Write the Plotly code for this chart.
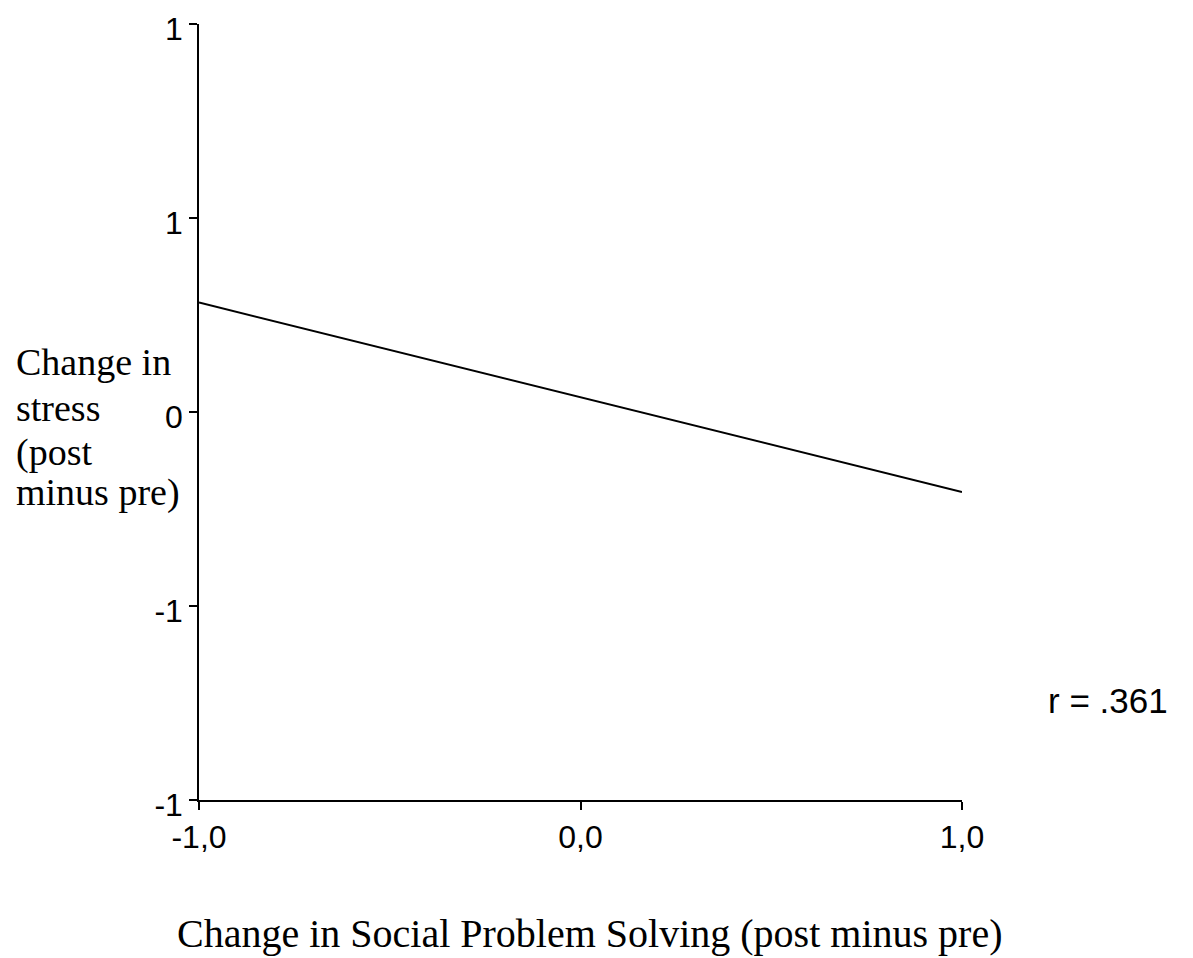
import plotly.graph_objects as go

# Data
x_vals = [-1.0, 1.0]
y_vals = [0.282, -0.206]
x_tickvals = [-1.0, 0.0, 1.0]
x_ticktext = ["-1,0", "0,0", "1,0"]
y_tickvals = [1.0, 0.5, 0.0, -0.5, -1.0]
y_ticktext = ["1", "1", "0", "-1", "-1"]
y_title_lines = ["Change in", "stress", "(post", "minus pre)"]
x_title = "Change in Social Problem Solving (post minus pre)"
r_label = "r = .361"

OFF = 8  # page body margin
W, H = 1193 - OFF, 958 - OFF
# target pixel geometry of the plot area (in page pixels)
X0, X1, Y0, Y1 = 199, 962, 24, 800
L, T = X0 - OFF, Y0 - OFF
R, B = W - (X1 - OFF), H - (Y1 - OFF)
pw, ph = X1 - X0, Y1 - Y0


def px(xp):
    return (xp - X0) / pw


def py(yp):
    return (Y1 - yp) / ph


fig = go.Figure()
fig.add_trace(go.Scatter(x=x_vals, y=y_vals, mode="lines",
                         line=dict(color="black", width=2), showlegend=False,
                         hoverinfo="skip"))

tfont = dict(family="Liberation Sans, Arial", size=32, color="black")
fig.update_layout(
    width=W, height=H,
    margin=dict(l=L, r=R, t=T, b=B, pad=0, autoexpand=False),
    paper_bgcolor="white", plot_bgcolor="white",
    xaxis=dict(range=[-1, 1], tickvals=x_tickvals, ticktext=x_ticktext,
               showgrid=False, zeroline=False, showline=True,
               linecolor="black", linewidth=1.5, ticks="outside",
               ticklen=8, tickcolor="black", tickwidth=1.5, tickfont=tfont,
               ticklabeloverflow="allow", automargin=False),
    yaxis=dict(range=[-1, 1], tickvals=y_tickvals, ticktext=y_ticktext,
               showgrid=False, zeroline=False, showline=True,
               linecolor="black", linewidth=1.5, ticks="outside",
               ticklen=8, tickcolor="black", tickwidth=1.5, tickfont=tfont,
               ticklabeloverflow="allow", automargin=False,
               ticklabelshift=5),
)

serif = dict(family="Liberation Serif, Times New Roman", size=38, color="black")
for line, yc in zip(y_title_lines, [362, 408, 452, 492]):
    fig.add_annotation(
        text=line, xref="paper", yref="paper",
        x=px(14), y=py(yc), xanchor="left", yanchor="middle",
        align="left", showarrow=False, font=serif)

fig.add_annotation(
    text=x_title, xref="paper", yref="paper",
    x=px(590), y=py(933), xanchor="center", yanchor="middle",
    showarrow=False,
    font=dict(family="Liberation Serif, Times New Roman", size=40, color="black"))

fig.add_annotation(
    text=r_label, xref="paper", yref="paper",
    x=px(1046), y=py(700), xanchor="left", yanchor="middle",
    showarrow=False,
    font=dict(family="Liberation Sans, Arial", size=35, color="black"))

fig.write_html("out.html")
